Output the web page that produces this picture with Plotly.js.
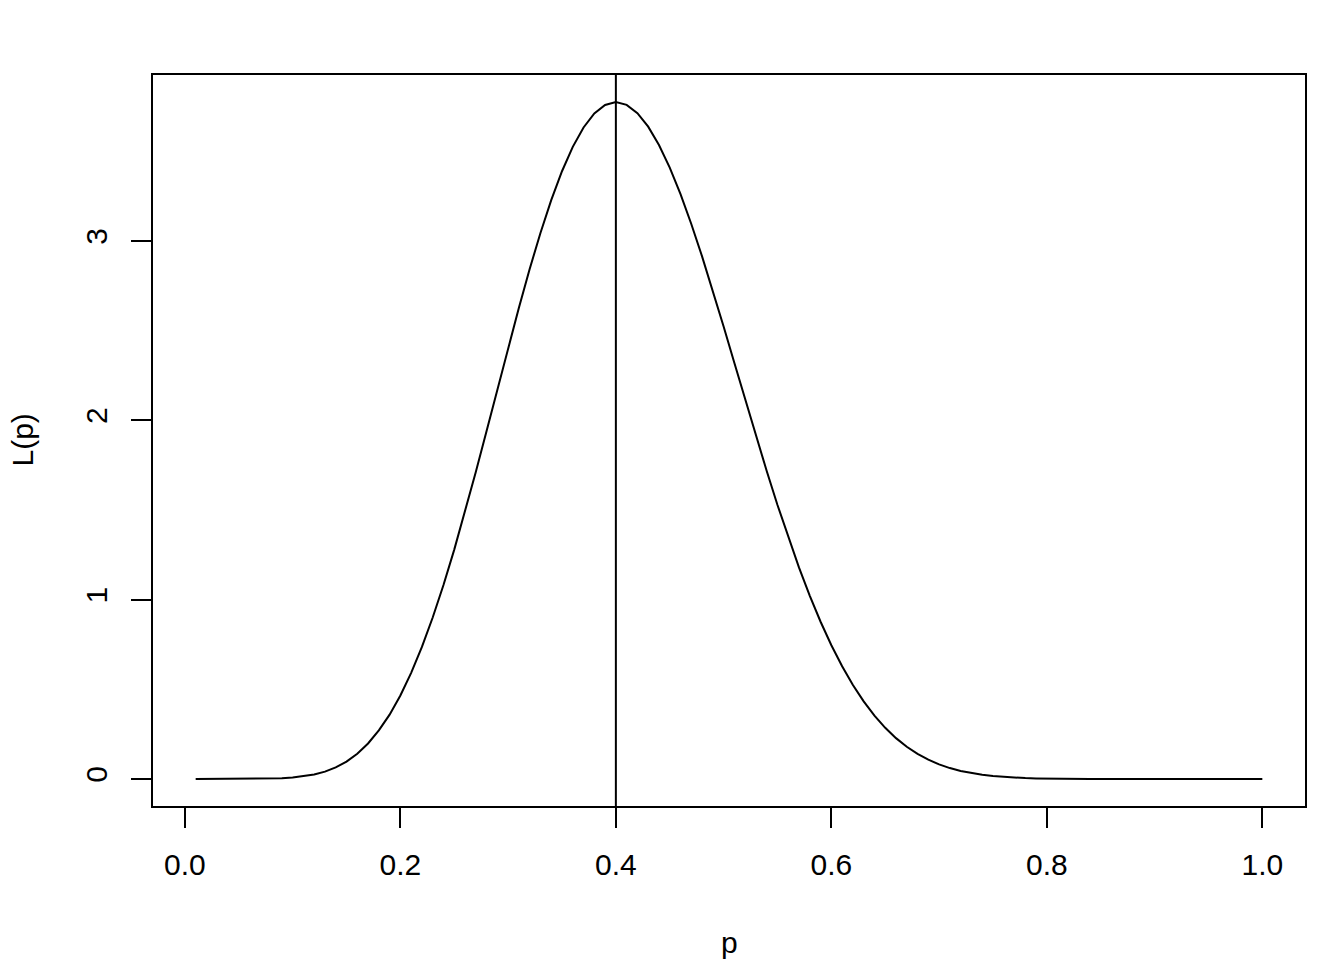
<!DOCTYPE html>
<html>
<head>
<meta charset="utf-8">
<script src="https://cdn.plot.ly/plotly-3.0.1.min.js"></script>
<style>html,body{margin:0;padding:0;background:#fff;}#chart{width:1344px;height:960px;}</style>
</head>
<body>
<div id="chart"></div>
<script>
// p values (0.01 .. 1.00)
const p = [
0.01,0.02,0.03,0.04,0.05,0.06,0.07,0.08,0.09,0.10,
0.11,0.12,0.13,0.14,0.15,0.16,0.17,0.18,0.19,0.20,
0.21,0.22,0.23,0.24,0.25,0.26,0.27,0.28,0.29,0.30,
0.31,0.32,0.33,0.34,0.35,0.36,0.37,0.38,0.39,0.40,
0.41,0.42,0.43,0.44,0.45,0.46,0.47,0.48,0.49,0.50,
0.51,0.52,0.53,0.54,0.55,0.56,0.57,0.58,0.59,0.60,
0.61,0.62,0.63,0.64,0.65,0.66,0.67,0.68,0.69,0.70,
0.71,0.72,0.73,0.74,0.75,0.76,0.77,0.78,0.79,0.80,
0.81,0.82,0.83,0.84,0.85,0.86,0.87,0.88,0.89,0.90,
0.91,0.92,0.93,0.94,0.95,0.96,0.97,0.98,0.99,1.00];
// L(p) values
const L = [
0.0000,0.0000,0.0000,0.0000,0.0001,0.0002,0.0006,0.0016,0.0037,0.0075,
0.0140,0.0245,0.0406,0.0639,0.0964,0.1404,0.1978,0.2708,0.3584,0.4654,
0.5913,0.7362,0.8999,1.0813,1.2786,1.4896,1.7111,1.9397,2.1716,2.4024,
2.6276,2.8432,3.0444,3.2274,3.3883,3.5242,3.6324,3.7108,3.7582,3.7739,
3.7583,3.7123,3.6370,3.5348,3.4083,3.2605,3.0944,2.9138,2.7221,2.5228,
2.3195,2.1155,1.9137,1.7169,1.5274,1.3472,1.1779,1.0207,0.8765,0.7454,
0.6279,0.5236,0.4322,0.3528,0.2849,0.2273,0.1792,0.1394,0.1071,0.0810,
0.0604,0.0444,0.0320,0.0227,0.0158,0.0108,0.0072,0.0047,0.0030,0.0018,
0.0011,0.0006,0.0003,0.0002,0.0001,0.0000,0.0000,0.0000,0.0000,0.0000,
0.0000,0.0000,0.0000,0.0000,0.0000,0.0000,0.0000,0.0000,0.0000,0.0000];
const xTickVals = [0.0,0.2,0.4,0.6,0.8,1.0];
const xTickText = ["0.0","0.2","0.4","0.6","0.8","1.0"];
const yTickVals = [0,1,2,3];
const yTickText = ["0","1","2","3"];
const pHat = 0.4;

const font = {family: "Liberation Sans, Arial, sans-serif", size: 30, color: "#000"};

const trace = {x: p, y: L, type: "scatter", mode: "lines",
  line: {color: "#000", width: 2}, hoverinfo: "skip"};

const layout = {
  width: 1344, height: 960,
  margin: {l: 153, r: 39, t: 75, b: 154},
  paper_bgcolor: "#fff", plot_bgcolor: "#fff",
  showlegend: false,
  font: font,
  xaxis: {range: [-0.0296, 1.0396], showgrid: false, zeroline: false,
    showline: true, mirror: true, linecolor: "#000", linewidth: 2,
    ticks: "outside", ticklen: 20, tickwidth: 2, tickcolor: "#000",
    tickvals: xTickVals, ticktext: xTickText, tickfont: font,
    ticklabelstandoff: 11},
  yaxis: {range: [-0.151, 3.925], showgrid: false, zeroline: false,
    showline: true, mirror: true, linecolor: "#000", linewidth: 2,
    ticks: "outside", ticklen: 20, tickwidth: 2, tickcolor: "#000",
    tickvals: yTickVals, ticktext: yTickText, tickfont: font,
    tickangle: -90, ticklabelstandoff: 12},
  shapes: [{type: "line", xref: "x", yref: "paper", x0: pHat, x1: pHat, y0: 0, y1: 1,
    line: {color: "#000", width: 2}}],
  annotations: [
    {text: "p", xref: "paper", yref: "paper", x: 0.5, y: 0, xanchor: "center", yanchor: "middle",
     yshift: -136, showarrow: false, font: font},
    {text: "L(p)", xref: "paper", yref: "paper", x: 0, y: 0.5, xanchor: "center", yanchor: "middle",
     xshift: -131, textangle: -90, showarrow: false, font: font}
  ]
};
Plotly.newPlot("chart", [trace], layout, {displayModeBar: false, staticPlot: true});
</script>
</body>
</html>
